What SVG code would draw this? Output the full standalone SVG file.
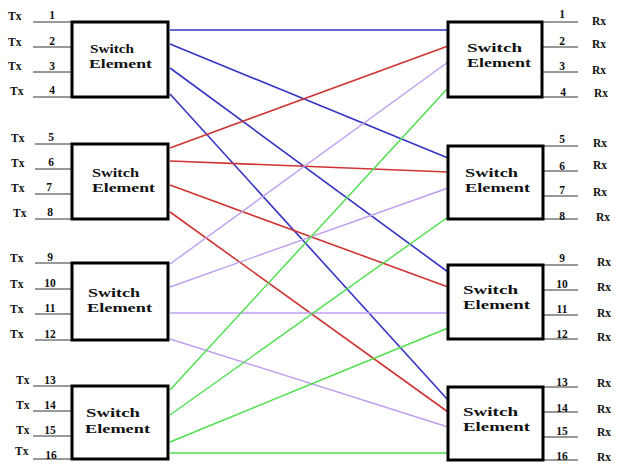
<svg xmlns="http://www.w3.org/2000/svg" width="618" height="465" viewBox="0 0 618 465">
<style>
.box{fill:#fff;stroke:#000;stroke-width:3}
.t{font-family:"Liberation Serif",serif;font-weight:bold;font-size:12.5px;fill:#111}
.lbl{font-family:"Liberation Serif",serif;font-weight:bold;font-size:11.5px;fill:#111}
.num{font-family:"Liberation Serif",serif;font-weight:bold;font-size:11.5px;fill:#111;text-anchor:middle}
.pin{stroke:#333;stroke-width:1}
.b{stroke:#3434c4;stroke-width:1.6;fill:none}
.r{stroke:#cf3434;stroke-width:1.6;fill:none}
.v{stroke:#bd9ff0;stroke-width:1.4;fill:none}
.g{stroke:#4ade4a;stroke-width:1.4;fill:none}
</style>
<rect width="618" height="465" fill="#fff"/>
<g id="connectors">
<line class="b" x1="170" y1="30" x2="448" y2="30"/>
<line class="b" x1="170" y1="44" x2="448" y2="158"/>
<line class="b" x1="170" y1="68" x2="448" y2="272"/>
<line class="b" x1="170" y1="94" x2="448" y2="400"/>
<line class="r" x1="170" y1="148" x2="448" y2="46"/>
<line class="r" x1="170" y1="161" x2="448" y2="172"/>
<line class="r" x1="170" y1="185" x2="448" y2="287"/>
<line class="r" x1="170" y1="212" x2="448" y2="412"/>
<line class="v" x1="170" y1="264" x2="448" y2="62"/>
<line class="v" x1="170" y1="287" x2="448" y2="188"/>
<line class="v" x1="170" y1="313" x2="448" y2="313"/>
<line class="v" x1="170" y1="339" x2="448" y2="427"/>
<line class="g" x1="170" y1="390" x2="448" y2="88"/>
<line class="g" x1="170" y1="415" x2="448" y2="217"/>
<line class="g" x1="170" y1="442" x2="448" y2="328"/>
<line class="g" x1="170" y1="453" x2="448" y2="453" stroke-width="3"/>
</g>
<g id="left1">
<line class="pin" x1="33" y1="22" x2="72" y2="22"/><line class="pin" x1="33" y1="47" x2="72" y2="47"/><line class="pin" x1="33" y1="72" x2="72" y2="72"/><line class="pin" x1="33" y1="97" x2="72" y2="97"/>
<text class="lbl" x="8" y="20">Tx</text><text class="lbl" x="8" y="46">Tx</text><text class="lbl" x="8" y="70">Tx</text><text class="lbl" x="10" y="95">Tx</text>
<text class="num" x="52" y="19">1</text><text class="num" x="52" y="45">2</text><text class="num" x="52" y="70">3</text><text class="num" x="52" y="94">4</text>
<rect class="box" x="72" y="22" width="96" height="75"/>
<text class="t" x="90" y="53" textLength="44" lengthAdjust="spacingAndGlyphs">Switch</text>
<text class="t" x="89" y="68" textLength="63" lengthAdjust="spacingAndGlyphs">Element</text>
</g>
<g id="left2">
<line class="pin" x1="35" y1="144" x2="72" y2="144"/><line class="pin" x1="35" y1="169" x2="72" y2="169"/><line class="pin" x1="35" y1="194" x2="72" y2="194"/><line class="pin" x1="35" y1="219" x2="72" y2="219"/>
<text class="lbl" x="11" y="142">Tx</text><text class="lbl" x="11" y="167">Tx</text><text class="lbl" x="11" y="192">Tx</text><text class="lbl" x="13" y="217">Tx</text>
<text class="num" x="51" y="141">5</text><text class="num" x="51" y="166">6</text><text class="num" x="49" y="191">7</text><text class="num" x="50" y="216">8</text>
<rect class="box" x="72" y="144" width="96" height="75"/>
<text class="t" x="92" y="177" textLength="47" lengthAdjust="spacingAndGlyphs">Switch</text>
<text class="t" x="92" y="192" textLength="63" lengthAdjust="spacingAndGlyphs">Element</text>
</g>
<g id="left3">
<line class="pin" x1="35" y1="263" x2="72" y2="263"/><line class="pin" x1="35" y1="289" x2="72" y2="289"/><line class="pin" x1="35" y1="314" x2="72" y2="314"/><line class="pin" x1="35" y1="340" x2="72" y2="340"/>
<text class="lbl" x="10" y="262">Tx</text><text class="lbl" x="10" y="288">Tx</text><text class="lbl" x="10" y="313">Tx</text><text class="lbl" x="10" y="338">Tx</text>
<text class="num" x="50" y="261">9</text><text class="num" x="50" y="287">10</text><text class="num" x="50" y="312">11</text><text class="num" x="50" y="338">12</text>
<rect class="box" x="72" y="263" width="96" height="77"/>
<text class="t" x="88" y="297" textLength="52" lengthAdjust="spacingAndGlyphs">Switch</text>
<text class="t" x="87" y="312" textLength="65" lengthAdjust="spacingAndGlyphs">Element</text>
</g>
<g id="left4">
<line class="pin" x1="33" y1="386" x2="72" y2="386"/><line class="pin" x1="33" y1="411" x2="72" y2="411"/><line class="pin" x1="33" y1="436" x2="72" y2="436"/><line class="pin" x1="33" y1="459" x2="72" y2="459"/>
<text class="lbl" x="16" y="384">Tx</text><text class="lbl" x="16" y="409">Tx</text><text class="lbl" x="16" y="434">Tx</text><text class="lbl" x="15" y="455">Tx</text>
<text class="num" x="50" y="384">13</text><text class="num" x="50" y="409">14</text><text class="num" x="50" y="434">15</text><text class="num" x="51" y="459">16</text>
<rect class="box" x="72" y="386" width="96" height="73"/>
<text class="t" x="86" y="417" textLength="54" lengthAdjust="spacingAndGlyphs">Switch</text>
<text class="t" x="85" y="433" textLength="65" lengthAdjust="spacingAndGlyphs">Element</text>
</g>
<g id="right1">
<line class="pin" x1="542" y1="22" x2="578" y2="22"/><line class="pin" x1="542" y1="47" x2="578" y2="47"/><line class="pin" x1="542" y1="72" x2="578" y2="72"/><line class="pin" x1="542" y1="97" x2="578" y2="97"/>
<text class="num" x="562" y="18">1</text><text class="num" x="562" y="45">2</text><text class="num" x="562" y="70">3</text><text class="num" x="563" y="96">4</text>
<text class="lbl" x="592" y="25">Rx</text><text class="lbl" x="592" y="48">Rx</text><text class="lbl" x="592" y="74">Rx</text><text class="lbl" x="594" y="97">Rx</text>
<rect class="box" x="448" y="22" width="94" height="75"/>
<text class="t" x="467" y="52" textLength="55" lengthAdjust="spacingAndGlyphs">Switch</text>
<text class="t" x="467" y="67" textLength="64" lengthAdjust="spacingAndGlyphs">Element</text>
</g>
<g id="right2">
<line class="pin" x1="543" y1="146" x2="578" y2="146"/><line class="pin" x1="543" y1="171" x2="578" y2="171"/><line class="pin" x1="543" y1="196" x2="578" y2="196"/><line class="pin" x1="543" y1="219" x2="578" y2="219"/>
<text class="num" x="562" y="143">5</text><text class="num" x="562" y="170">6</text><text class="num" x="562" y="194">7</text><text class="num" x="562" y="220">8</text>
<text class="lbl" x="593" y="147">Rx</text><text class="lbl" x="593" y="169">Rx</text><text class="lbl" x="593" y="196">Rx</text><text class="lbl" x="596" y="221">Rx</text>
<rect class="box" x="448" y="146" width="95" height="73"/>
<text class="t" x="465" y="177" textLength="53" lengthAdjust="spacingAndGlyphs">Switch</text>
<text class="t" x="465" y="192" textLength="65" lengthAdjust="spacingAndGlyphs">Element</text>
</g>
<g id="right3">
<line class="pin" x1="543" y1="265" x2="578" y2="265"/><line class="pin" x1="543" y1="290" x2="578" y2="290"/><line class="pin" x1="543" y1="315" x2="578" y2="315"/><line class="pin" x1="543" y1="339" x2="578" y2="339"/>
<text class="num" x="562" y="262">9</text><text class="num" x="562" y="288">10</text><text class="num" x="562" y="313">11</text><text class="num" x="562" y="338">12</text>
<text class="lbl" x="597" y="266">Rx</text><text class="lbl" x="597" y="291">Rx</text><text class="lbl" x="597" y="317">Rx</text><text class="lbl" x="597" y="341">Rx</text>
<rect class="box" x="448" y="265" width="95" height="74"/>
<text class="t" x="463" y="294" textLength="55" lengthAdjust="spacingAndGlyphs">Switch</text>
<text class="t" x="463" y="309" textLength="67" lengthAdjust="spacingAndGlyphs">Element</text>
</g>
<g id="right4">
<line class="pin" x1="543" y1="387" x2="578" y2="387"/><line class="pin" x1="543" y1="412" x2="578" y2="412"/><line class="pin" x1="543" y1="437" x2="578" y2="437"/><line class="pin" x1="543" y1="460" x2="578" y2="460"/>
<text class="num" x="562" y="386">13</text><text class="num" x="562" y="412">14</text><text class="num" x="562" y="435">15</text><text class="num" x="562" y="460">16</text>
<text class="lbl" x="597" y="387">Rx</text><text class="lbl" x="597" y="413">Rx</text><text class="lbl" x="597" y="436">Rx</text><text class="lbl" x="597" y="461">Rx</text>
<rect class="box" x="448" y="387" width="95" height="73"/>
<text class="t" x="463" y="416" textLength="55" lengthAdjust="spacingAndGlyphs">Switch</text>
<text class="t" x="463" y="431" textLength="67" lengthAdjust="spacingAndGlyphs">Element</text>
</g>
</svg>
